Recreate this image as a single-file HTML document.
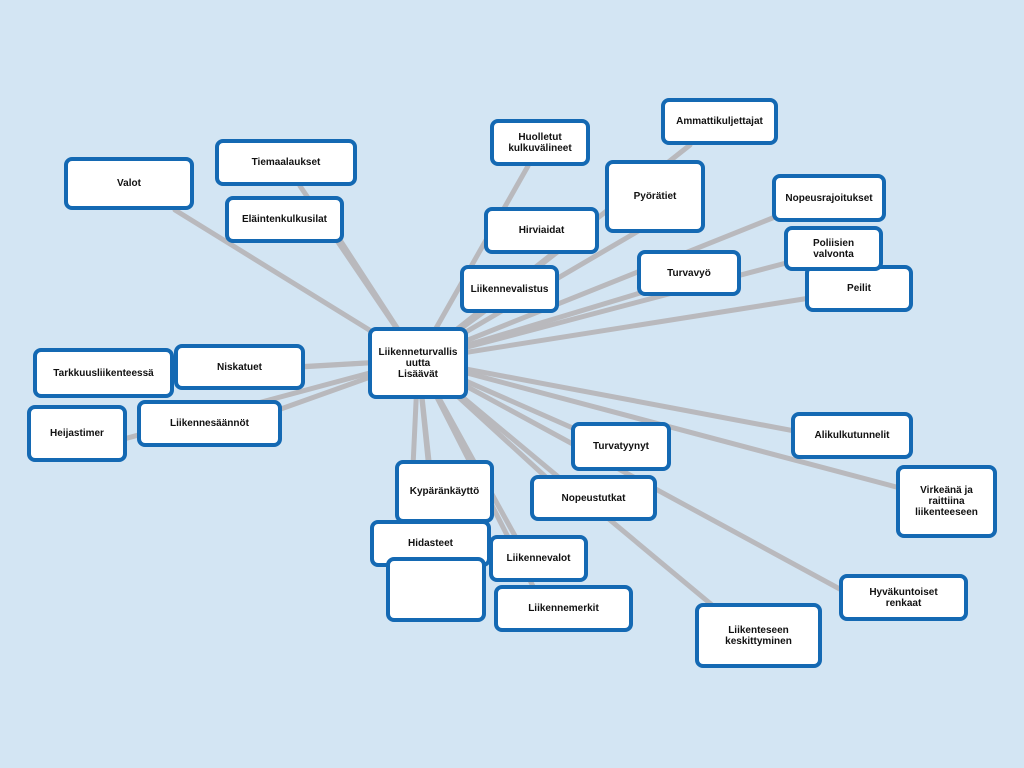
<!DOCTYPE html>
<html><head><meta charset="utf-8"><style>
body{margin:0;width:1024px;height:768px;background:#d3e5f3;position:relative;overflow:hidden;font-family:"Liberation Sans",sans-serif}
.b{position:absolute;box-sizing:border-box;background:#fff;border:4px solid #1469b3;border-radius:8px;display:flex;align-items:center;justify-content:center;text-align:center;font-weight:bold;font-size:10px;line-height:11px;color:#111}
svg{position:absolute;left:0;top:0}
</style></head><body>
<svg width="1024" height="768"><g stroke="#b9b9bd" stroke-width="5" stroke-linecap="round">
<line x1="418" y1="360" x2="175" y2="210"/>
<line x1="418" y1="360" x2="300" y2="186"/>
<line x1="418" y1="360" x2="340" y2="240"/>
<line x1="418" y1="360" x2="528" y2="166"/>
<line x1="418" y1="360" x2="690" y2="145"/>
<line x1="418" y1="360" x2="640" y2="230"/>
<line x1="418" y1="360" x2="780" y2="215"/>
<line x1="418" y1="360" x2="560" y2="250"/>
<line x1="418" y1="360" x2="790" y2="262"/>
<line x1="418" y1="360" x2="500" y2="300"/>
<line x1="418" y1="360" x2="650" y2="290"/>
<line x1="418" y1="360" x2="810" y2="298"/>
<line x1="418" y1="360" x2="170" y2="375"/>
<line x1="418" y1="360" x2="240" y2="370"/>
<line x1="418" y1="360" x2="120" y2="440"/>
<line x1="418" y1="360" x2="250" y2="420"/>
<line x1="418" y1="360" x2="600" y2="440"/>
<line x1="418" y1="360" x2="800" y2="432"/>
<line x1="418" y1="360" x2="900" y2="488"/>
<line x1="418" y1="360" x2="430" y2="470"/>
<line x1="418" y1="360" x2="560" y2="490"/>
<line x1="418" y1="360" x2="410" y2="530"/>
<line x1="418" y1="360" x2="520" y2="545"/>
<line x1="418" y1="360" x2="440" y2="580"/>
<line x1="418" y1="360" x2="540" y2="600"/>
<line x1="418" y1="360" x2="860" y2="600"/>
<line x1="418" y1="360" x2="730" y2="620"/>
</g></svg>
<div class="b" style="left:64px;top:157px;width:130px;height:53px">Valot</div>
<div class="b" style="left:215px;top:139px;width:142px;height:47px">Tiemaalaukset</div>
<div class="b" style="left:225px;top:196px;width:119px;height:47px">Eläintenkulkusilat</div>
<div class="b" style="left:490px;top:119px;width:100px;height:47px">Huolletut<br>kulkuvälineet</div>
<div class="b" style="left:661px;top:98px;width:117px;height:47px">Ammattikuljettajat</div>
<div class="b" style="left:605px;top:160px;width:100px;height:73px;align-items:flex-start;padding-top:27px">Pyörätiet</div>
<div class="b" style="left:772px;top:174px;width:114px;height:48px">Nopeusrajoitukset</div>
<div class="b" style="left:484px;top:207px;width:115px;height:47px">Hirviaidat</div>
<div class="b" style="left:805px;top:265px;width:108px;height:47px">Peilit</div>
<div class="b" style="left:784px;top:226px;width:99px;height:45px">Poliisien<br>valvonta</div>
<div class="b" style="left:460px;top:265px;width:99px;height:48px">Liikennevalistus</div>
<div class="b" style="left:637px;top:250px;width:104px;height:46px">Turvavyö</div>
<div class="b" style="left:368px;top:327px;width:100px;height:72px">Liikenneturvallis<br>uutta<br>Lisäävät</div>
<div class="b" style="left:33px;top:348px;width:141px;height:50px">Tarkkuusliikenteessä</div>
<div class="b" style="left:174px;top:344px;width:131px;height:46px">Niskatuet</div>
<div class="b" style="left:27px;top:405px;width:100px;height:57px">Heijastimer</div>
<div class="b" style="left:137px;top:400px;width:145px;height:47px">Liikennesäännöt</div>
<div class="b" style="left:571px;top:422px;width:100px;height:49px">Turvatyynyt</div>
<div class="b" style="left:791px;top:412px;width:122px;height:47px">Alikulkutunnelit</div>
<div class="b" style="left:896px;top:465px;width:101px;height:73px">Virkeänä ja<br>raittiina<br>liikenteeseen</div>
<div class="b" style="left:395px;top:460px;width:99px;height:63px">Kypäränkäyttö</div>
<div class="b" style="left:530px;top:475px;width:127px;height:46px">Nopeustutkat</div>
<div class="b" style="left:370px;top:520px;width:121px;height:47px;align-items:flex-start;padding-top:14px">Hidasteet</div>
<div class="b" style="left:489px;top:535px;width:99px;height:47px">Liikennevalot</div>
<div class="b" style="left:386px;top:557px;width:100px;height:65px"></div>
<div class="b" style="left:494px;top:585px;width:139px;height:47px">Liikennemerkit</div>
<div class="b" style="left:839px;top:574px;width:129px;height:47px">Hyväkuntoiset<br>renkaat</div>
<div class="b" style="left:695px;top:603px;width:127px;height:65px">Liikenteseen<br>keskittyminen</div>
</body></html>
